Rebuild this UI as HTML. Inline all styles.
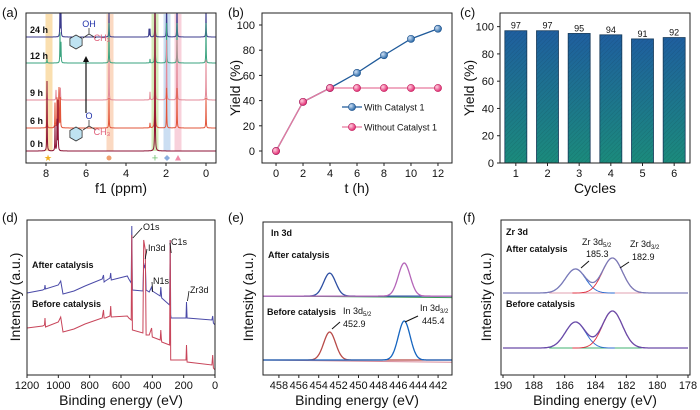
<!DOCTYPE html>
<html><head><meta charset="utf-8">
<style>
html,body{margin:0;padding:0;background:#fff;}
svg{display:block;font-family:"Liberation Sans",Arial,sans-serif;}
.tk{font-size:11px;fill:#111;}
.tt{font-size:14px;fill:#111;}
.pl{font-size:13px;fill:#111;}
.bl{font-size:9px;font-weight:bold;fill:#111;}
.sm{font-size:9px;fill:#111;}
</style></head>
<body>
<svg id="fig" width="700" height="410" viewBox="0 0 700 410" xmlns="http://www.w3.org/2000/svg">
<defs>
<linearGradient id="barg" x1="0" y1="0" x2="0" y2="1"><stop offset="0" stop-color="#1f5f9f"/><stop offset="1" stop-color="#1b8b7c"/></linearGradient>
<pattern id="hatch" width="3" height="3" patternUnits="userSpaceOnUse" patternTransform="rotate(45)"><line x1="0" y1="0" x2="0" y2="3" stroke="rgba(0,0,0,0.12)" stroke-width="1"/></pattern>
<radialGradient id="mb" cx="0.35" cy="0.35" r="0.7"><stop offset="0" stop-color="#cfe0f5"/><stop offset="1" stop-color="#1c5fa0"/></radialGradient>
<radialGradient id="mp" cx="0.35" cy="0.35" r="0.7"><stop offset="0" stop-color="#ffd0e0"/><stop offset="1" stop-color="#e0206a"/></radialGradient>
<clipPath id="clipA"><rect x="26" y="13" width="190" height="150"/></clipPath>
</defs>
</svg>
<script>
// ---------- Panel (b) data ----------
const timesB = [0,2,4,6,8,10,12];
const withCat = [0,39,50,62,76,89,97];
const withoutCat = [0,39,50,50,50,50,50];
const yTicksB = [0,20,40,60,80,100];
const xTicksB = [0,2,4,6,8,10,12];
// ---------- Panel (c) data ----------
const cycles = [1,2,3,4,5,6];
const cycleYield = [97,97,95,94,91,92];
const yTicksC = [0,20,40,60,80,100];
// ---------- Panel (a) data ----------
const nmrTraces = ['24 h','12 h','9 h','6 h','0 h'];
const nmrColors = ['#3b3b8c','#3aa37f','#e38a98','#e2553a','#8c1234'];
const nmrBase = [37,63,100,128,151];
const nmrPeakPpm = [
 [7.3,7.25,4.85,2.85,2.8,2.55,1.97,1.45,0],
 [7.95,7.3,7.25,4.85,2.8,2.55,1.97,1.45,0],
 [7.95,7.5,7.35,7.28,4.85,2.8,2.55,1.97,1.45,0],
 [7.95,7.55,7.45,7.35,7.28,4.85,2.8,2.55,1.97,1.45,0],
 [7.95,7.55,7.45,7.4,2.55]
];
const nmrPeakH = [
 [40,25,26,8,8,40,40,40,30],
 [4,30,20,40,4,60,40,40,40],
 [8,10,12,12,40,8,90,60,60,40],
 [30,25,30,40,30,30,5,130,40,40,30],
 [70,25,30,50,150]
];
const xTicksA = [8,6,4,2,0];
// ---------- Panel (d) data ----------
const surveyBE = [1200,1100,1088,1085,1082,1000,985,970,900,830,720,712,708,700,670,666,662,560,550,535,531,527,460,455,450,445,440,420,405,400,350,346,343,340,290,286,283,280,200,185,182,178,20,15,10,0];
const surveyAfter = [82,85,86,90,86,90,94,81,84,89,96,100,93,94,97,102,95,99,96,92,149,85,84,110,108,112,85,83,88,84,79,88,82,77,70,135,60,57,57,57,73,57,55,59,52,50];
const surveyBefore = [47,49,50,57,48,53,58,43,46,51,57,65,57,57,59,69,58,59,57,55,140,45,42,135,130,125,40,40,47,38,35,45,37,33,30,135,15,15,15,15,30,13,10,20,7,5];
const xTicksD = [1200,1000,800,600,400,200,0];
// ---------- Panel (e) data ----------
const in3dCenters = [452.9,445.4];
const in3dAfterBase = 51.6, in3dAfterH = [15,21.6];
const in3dBeforeBase = 9.8, in3dBeforeH = [18.3,25.5];
const xTicksE = [458,456,454,452,450,448,446,444,442];
// ---------- Panel (f) data ----------
const zrCenters = [185.3,182.9];
const zrAfterBase = 52.9, zrAfterH = [15.5,22.6];
const zrBeforeBase = 17.4, zrBeforeH = [16.8,23.9];
const xTicksF = [190,188,186,184,182,180,178];

const svg = document.getElementById('fig');
const NS = 'http://www.w3.org/2000/svg';
function mk(tag, attrs, parent){const e=document.createElementNS(NS,tag);for(const k in attrs)e.setAttribute(k,attrs[k]);(parent||svg).appendChild(e);return e;}
function txt(x,y,s,cls,anchor,parent){const t=mk('text',{x:x,y:y,class:cls,'text-anchor':anchor||'middle'},parent);t.textContent=s;return t;}
function lin(d0,d1,r0,r1){return v=>r0+(v-d0)/(d1-d0)*(r1-r0);}
function frame(x0,y0,x1,y1,name){const r=mk('rect',{x:x0,y:y0,width:x1-x0,height:y1-y0,fill:'none',stroke:'#222','stroke-width':1});

return r;}
function gauss(x,c,s){return Math.exp(-0.5*((x-c)/s)*((x-c)/s));}

// ================= Panel (a) =================
{
 const g=mk('g',{});
 
 
 const X=lin(9,-0.5,26,216);
 const bands=[[7.85,'#f7c97a'],[4.8,'#f8c09a'],[2.55,'#b8dd8a'],[1.95,'#a9c8ea'],[1.4,'#f3b3c3']];
 bands.forEach(b=>{const r=mk('rect',{x:X(b[0])-3.5,y:14,width:7,height:137,fill:b[1],opacity:0.6},g);
  
  });
 const cg=mk('g',{'clip-path':'url(#clipA)'},g);
 nmrTraces.forEach((nm,i)=>{
  let pts=[];
  for(let p=9;p>=-0.5;p-=0.005){let y=nmrBase[i];nmrPeakPpm[i].forEach((c,k)=>{const w=0.01;y-=nmrPeakH[i][k]*(w*w)/((p-c)*(p-c)+w*w);});pts.push(X(p).toFixed(1)+','+y.toFixed(1));}
  const pl=mk('polyline',{points:pts.join(' '),fill:'none',stroke:nmrColors[i],'stroke-width':1},cg);
  
  
  const t=txt(30,nmrBase[i]-4,nm,'bl','start',g);
  
  
 });
 const ar=mk('line',{x1:86,y1:113,x2:86,y2:60,stroke:'#111','stroke-width':1.2},g);
 
 
 mk('polygon',{points:'83,62 89,62 86,56',fill:'#111'},g);
 function hex(cx,cy,r){let p=[];for(let k=0;k<6;k++){const a=Math.PI/6+k*Math.PI/3;p.push((cx+r*Math.cos(a)).toFixed(1)+','+(cy+r*Math.sin(a)).toFixed(1));}return p.join(' ');}
 const m1=mk('polygon',{points:hex(76,42,7),fill:'#bfe3f2',stroke:'#333','stroke-width':0.8},g);
 
 
 mk('polyline',{points:'83,38 89,34 89,28 89,34 96,38',fill:'none',stroke:'#333','stroke-width':0.8},g);
 txt(89,27,'OH','sm','middle',g).style.fill='#2233aa';
 txt(102,41,'CH₃','sm','middle',g).style.fill='#e0607a';
 const m2=mk('polygon',{points:hex(76,134,7),fill:'#bfe3f2',stroke:'#333','stroke-width':0.8},g);
 
 
 mk('polyline',{points:'83,130 89,126 89,120 89,126 96,130',fill:'none',stroke:'#333','stroke-width':0.8},g);
 txt(89,119,'O','sm','middle',g).style.fill='#2233aa';
 txt(102,135,'CH₃','sm','middle',g).style.fill='#e0607a';
 const sy=158;
 txt(X(7.9),sy+3,'★','sm','middle',g).style.fill='#f0b020';
 mk('circle',{cx:X(4.85),cy:sy,r:2.5,fill:'#f0a070'},g);
 txt(X(2.55),sy+3.5,'+','tk','middle',g).style.fill='#70c070';
 mk('polygon',{points:`${X(1.95)},${sy-3} ${X(1.95)+3},${sy} ${X(1.95)},${sy+3} ${X(1.95)-3},${sy}`,fill:'#8aaee0'},g);
 mk('polygon',{points:`${X(1.4)},${sy-3} ${X(1.4)+3},${sy+2.5} ${X(1.4)-3},${sy+2.5}`,fill:'#f08aa8'},g);
 frame(26,13,216,163,'panel-a-frame');
 xTicksA.forEach(v=>{mk('line',{x1:X(v),y1:163,x2:X(v),y2:166,stroke:'#222'},g);
  const t=txt(X(v),177,String(v),'tk','middle',g);
  
  });
 const tt=txt(121,193,'f1 (ppm)','tt','middle',g);
 
 
 const pl=txt(2,17,'(a)','pl','start',g);
 
 
}

// ================= Panel (b) =================
{
 const g=mk('g',{});
 
 
 const X=lin(-1.04,13.04,262,452), Y=lin(0,100,151,25);
 frame(262,13,452,163,'panel-b-frame');
 yTicksB.forEach(v=>{mk('line',{x1:262,y1:Y(v),x2:259,y2:Y(v),stroke:'#222'},g);
  const t=txt(255,Y(v)+4,String(v),'tk','end',g);
  
  });
 xTicksB.forEach(v=>{mk('line',{x1:X(v),y1:163,x2:X(v),y2:166,stroke:'#222'},g);
  const t=txt(X(v),177,String(v),'tk','middle',g);
  
  });
 const l1=mk('polyline',{points:timesB.map((t,i)=>X(t)+','+Y(withCat[i])).join(' '),fill:'none',stroke:'#1f5a9a','stroke-width':1.3},g);
 
 
 const l2=mk('polyline',{points:timesB.map((t,i)=>X(t)+','+Y(withoutCat[i])).join(' '),fill:'none',stroke:'#e6799e','stroke-width':1.3},g);
 
 
 timesB.forEach((t,i)=>{const c=mk('circle',{cx:X(t),cy:Y(withCat[i]),r:3.6,fill:'url(#mb)',stroke:'#1a4f8a','stroke-width':0.6},g);
  
  });
 timesB.forEach((t,i)=>{const c=mk('circle',{cx:X(t),cy:Y(withoutCat[i]),r:3.6,fill:'url(#mp)',stroke:'#c01858','stroke-width':0.6},g);
  
  });
 const lg=mk('g',{},g);
 
 
 mk('line',{x1:342,y1:107,x2:362,y2:107,stroke:'#1f5a9a','stroke-width':1.3},lg);
 mk('circle',{cx:352,cy:107,r:3.6,fill:'url(#mb)',stroke:'#1a4f8a','stroke-width':0.6},lg);
 txt(364,110.5,'With Catalyst 1','sm','start',lg).setAttribute('font-size','9.5');
 mk('line',{x1:342,y1:127,x2:362,y2:127,stroke:'#e6799e','stroke-width':1.3},lg);
 mk('circle',{cx:352,cy:127,r:3.6,fill:'url(#mp)',stroke:'#c01858','stroke-width':0.6},lg);
 txt(364,130.5,'Without Catalyst 1','sm','start',lg).setAttribute('font-size','9.5');
 const tt=txt(357,193,'t (h)','tt','middle',g);
 
 
 const yt=txt(0,0,'Yield (%)','tt','middle',g);yt.setAttribute('transform','translate(240,88) rotate(-90)');
 
 
 const pl=txt(228,17,'(b)','pl','start',g);
 
 
}

// ================= Panel (c) =================
{
 const g=mk('g',{});
 
 
 const X=lin(0.5,6.5,500,690), Y=lin(0,110,163,13);
 cycles.forEach((c,i)=>{
  const y=Y(cycleYield[i]),h=Y(0)-y;
  const r=mk('rect',{x:X(c)-11,y:y,width:22,height:h,fill:'url(#barg)',stroke:'#163a5a','stroke-width':0.8},g);
  
  
  mk('rect',{x:X(c)-11,y:y,width:22,height:h,fill:'url(#hatch)'},g);
  const t=txt(X(c),y-2,String(cycleYield[i]),'sm','middle',g);
  
  
  mk('line',{x1:X(c),y1:163,x2:X(c),y2:166,stroke:'#222'},g);
  const tk=txt(X(c),177,String(c),'tk','middle',g);
  
  
 });
 yTicksC.forEach(v=>{mk('line',{x1:500,y1:Y(v),x2:497,y2:Y(v),stroke:'#222'},g);
  const t=txt(494,Y(v)+4,String(v),'tk','end',g);
  
  });
 frame(500,13,690,163,'panel-c-frame');
 const tt=txt(595,193,'Cycles','tt','middle',g);
 
 
 const yt=txt(0,0,'Yield (%)','tt','middle',g);yt.setAttribute('transform','translate(474,88) rotate(-90)');
 
 
 const pl=txt(460,17,'(c)','pl','start',g);
 
 
}

// ================= Panel (d) =================
{
 const g=mk('g',{});
 
 
 const X=lin(1200,0,27,215), Y=lin(0,155,375,220);
 const a=mk('polyline',{points:surveyBE.map((b,i)=>X(b).toFixed(1)+','+Y(surveyAfter[i]).toFixed(1)).join(' '),fill:'none',stroke:'#4a4aa8','stroke-width':1},g);
 
 
 const b=mk('polyline',{points:surveyBE.map((v,i)=>X(v).toFixed(1)+','+Y(surveyBefore[i]).toFixed(1)).join(' '),fill:'none',stroke:'#c8455a','stroke-width':1},g);
 
 
 frame(27,220,215,375,'panel-d-frame');
 xTicksD.forEach(v=>{mk('line',{x1:X(v),y1:375,x2:X(v),y2:378,stroke:'#222'},g);
  const t=txt(X(v),389,String(v),'tk','middle',g);
  
  });
 txt(32,268,'After catalysis','bl','start',g);
 txt(32,307,'Before catalysis','bl','start',g);
 const ann=[['O1s',531,143,230],['In3d',452,148,251],['N1s',404,153,284],['C1s',286,171,245],['Zr3d',182,190,293]];
 ann.forEach(a=>{
  const t=txt(a[2],a[3],a[0],'sm','start',g);t.setAttribute('font-size','10');
  
  
  mk('line',{x1:X(a[1])+1,y1:a[3]+8,x2:a[2]-1,y2:a[3]-2,stroke:'#111','stroke-width':0.8},g);
 });
 const tt=txt(121,405,'Binding energy (eV)','tt','middle',g);
 
 
 const yt=txt(0,0,'Intensity (a.u.)','tt','middle',g);yt.setAttribute('transform','translate(20,297) rotate(-90)');
 
 
 const pl=txt(2,222,'(d)','pl','start',g);
 
 
}

// ================= Panel (e) =================
{
 const g=mk('g',{});
 
 
 const X=lin(459.6,440.6,263,452), Y=lin(0,100,375,222);
 function curve(base,c,h,col,name){let p=[];for(let e=459.6;e>=440.6;e-=0.05){p.push(X(e).toFixed(1)+','+Y(base+h*gauss(e,c,0.6)).toFixed(1));}
  const pl=mk('polyline',{points:p.join(' '),fill:'none',stroke:col,'stroke-width':1.3},g);
  
  }
 mk('line',{x1:263,y1:Y(in3dAfterBase),x2:452,y2:Y(in3dAfterBase-1),stroke:'#3a9a5a','stroke-width':1},g);
 curve(in3dAfterBase,in3dCenters[0],in3dAfterH[0],'#2c4ea2','after-in3d52-peak');
 curve(in3dAfterBase,in3dCenters[1],in3dAfterH[1],'#b465b8','after-in3d32-peak');
 mk('line',{x1:263,y1:Y(in3dBeforeBase),x2:452,y2:Y(in3dBeforeBase-1.5),stroke:'#d88a9a','stroke-width':1},g);
 curve(in3dBeforeBase,in3dCenters[0],in3dBeforeH[0],'#b84a48','before-in3d52-peak');
 curve(in3dBeforeBase,in3dCenters[1],in3dBeforeH[1],'#1565c0','before-in3d32-peak');
 frame(263,222,452,375,'panel-e-frame');
 xTicksE.forEach(v=>{mk('line',{x1:X(v),y1:375,x2:X(v),y2:378,stroke:'#222'},g);
  const t=txt(X(v),389,String(v),'tk','middle',g);
  
  });
 txt(271,236,'In 3d','bl','start',g).setAttribute('font-size','10');
 txt(268,258,'After catalysis','bl','start',g);
 txt(267,315,'Before catalysis','bl','start',g);
 const a1=txt(343,314,'In 3d','sm','start',g);a1.innerHTML='In 3d<tspan font-size="6" dy="2">5/2</tspan>';
 txt(343,327,'452.9','sm','start',g);
 mk('line',{x1:332,y1:329,x2:340,y2:322,stroke:'#111'},g);
 const a2=txt(420,311,'In 3d','sm','start',g);a2.innerHTML='In 3d<tspan font-size="6" dy="2">3/2</tspan>';
 txt(422,324,'445.4','sm','start',g);
 mk('line',{x1:405,y1:322,x2:418,y2:316,stroke:'#111'},g);
 const tt=txt(357,405,'Binding energy (eV)','tt','middle',g);
 
 
 const yt=txt(0,0,'Intensity (a.u.)','tt','middle',g);yt.setAttribute('transform','translate(253,297) rotate(-90)');
 
 
 const pl=txt(228,222,'(e)','pl','start',g);
 
 
}

// ================= Panel (f) =================
{
 const g=mk('g',{});
 
 
 const X=lin(190,178,503,688), Y=lin(0,100,375,220);
 function env(base,hs,col,name){let p=[];for(let e=190;e>=178;e-=0.04){p.push(X(e).toFixed(1)+','+Y(base+hs[0]*gauss(e,zrCenters[0],0.65)+hs[1]*gauss(e,zrCenters[1],0.65)).toFixed(1));}
  const pl=mk('polyline',{points:p.join(' '),fill:'none',stroke:col,'stroke-width':1.3},g);
  
  }
 function comp(base,c,h,col){let p=[];for(let e=c+2.6;e>=c-2.6;e-=0.05){p.push(X(e).toFixed(1)+','+Y(base+h*gauss(e,c,0.65)).toFixed(1));}
  mk('polyline',{points:p.join(' '),fill:'none',stroke:col,'stroke-width':0.9},g);}
 mk('line',{x1:X(187),y1:Y(zrAfterBase),x2:X(181),y2:Y(zrAfterBase),stroke:'#e0a0b0','stroke-width':1},g);
 comp(zrAfterBase,zrCenters[0],zrAfterH[0],'#2a6ad0');comp(zrAfterBase,zrCenters[1],zrAfterH[1],'#e03040');
 env(zrAfterBase,zrAfterH,'#7a7ab8','after-zr3d-envelope');
 mk('line',{x1:X(187),y1:Y(zrBeforeBase),x2:X(181),y2:Y(zrBeforeBase),stroke:'#40b070','stroke-width':1},g);
 comp(zrBeforeBase,zrCenters[0],zrBeforeH[0],'#2a6ad0');comp(zrBeforeBase,zrCenters[1],zrBeforeH[1],'#e03040');
 env(zrBeforeBase,zrBeforeH,'#6a4aa8','before-zr3d-envelope');
 frame(501,220,690,375,'panel-f-frame');
 xTicksF.forEach(v=>{mk('line',{x1:X(v),y1:375,x2:X(v),y2:378,stroke:'#222'},g);
  const t=txt(X(v),389,String(v),'tk','middle',g);
  
  });
 txt(506,235,'Zr 3d','bl','start',g).setAttribute('font-size','10');
 txt(506,252,'After catalysis','bl','start',g);
 txt(506,307,'Before catalysis','bl','start',g);
 const a1=txt(582,245,'','sm','start',g);a1.innerHTML='Zr 3d<tspan font-size="6" dy="2">5/2</tspan>';
 txt(586,257,'185.3','sm','start',g);
 mk('line',{x1:581,y1:268,x2:589,y2:261,stroke:'#111'},g);
 const a2=txt(630,247,'','sm','start',g);a2.innerHTML='Zr 3d<tspan font-size="6" dy="2">3/2</tspan>';
 txt(632,260,'182.9','sm','start',g);
 mk('line',{x1:620,y1:268,x2:629,y2:262,stroke:'#111'},g);
 const tt=txt(595,405,'Binding energy (eV)','tt','middle',g);
 
 
 const yt=txt(0,0,'Intensity (a.u.)','tt','middle',g);yt.setAttribute('transform','translate(491,297) rotate(-90)');
 
 
 const pl=txt(463,222,'(f)','pl','start',g);
 
 
}
</script>
</body></html>
